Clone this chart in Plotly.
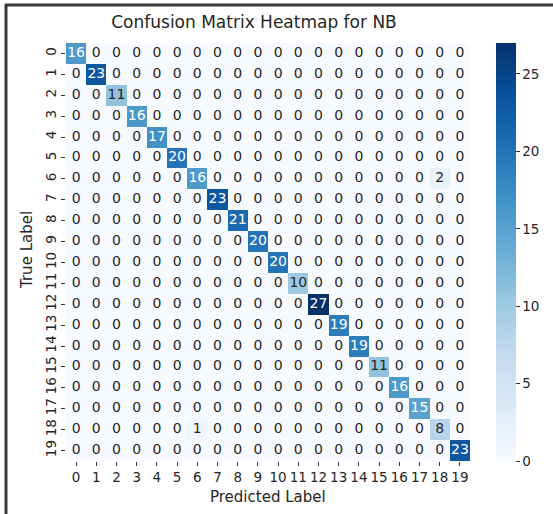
import numpy as np
import plotly.graph_objects as go

# Class labels 0..19
labels = [str(i) for i in range(20)]

# Correct predictions per class (diagonal of the confusion matrix)
diagonal_counts = [16, 23, 11, 16, 17, 20, 16, 23, 21, 20,
                   20, 10, 27, 19, 19, 11, 16, 15, 8, 23]

# Misclassifications: (true label, predicted label, count)
off_diagonal = [(6, 18, 2), (18, 6, 1)]

colorbar_ticks = [0, 5, 10, 15, 20, 25]

n = len(labels)
cm = np.zeros((n, n), dtype=int)
for i, v in enumerate(diagonal_counts):
    cm[i, i] = v
for r, c, v in off_diagonal:
    cm[r, c] = v

# Matplotlib-style "Blues"
blues = ["#f7fbff", "#deebf7", "#c6dbef", "#9ecae1", "#6baed6",
         "#4292c6", "#2171b5", "#08519c", "#08306b"]
colorscale = [[i / (len(blues) - 1), c] for i, c in enumerate(blues)]

vmin, vmax = 0, int(cm.max())


def hex_rgb(h):
    h = h.lstrip("#")
    return [int(h[k:k + 2], 16) / 255 for k in (0, 2, 4)]


def cell_color(v):
    t = (v - vmin) / (vmax - vmin) * (len(blues) - 1)
    k = min(int(np.floor(t)), len(blues) - 2)
    f = t - k
    a, b = hex_rgb(blues[k]), hex_rgb(blues[k + 1])
    return [a[j] + (b[j] - a[j]) * f for j in range(3)]


def luminance(rgb):
    lin = [c / 12.92 if c <= 0.03928 else ((c + 0.055) / 1.055) ** 2.4 for c in rgb]
    return 0.2126 * lin[0] + 0.7152 * lin[1] + 0.0722 * lin[2]


xs, ys, txt, tcol = [], [], [], []
for r in range(n):
    for c in range(n):
        xs.append(c)
        ys.append(r)
        txt.append(str(cm[r, c]))
        tcol.append("#ffffff" if luminance(cell_color(cm[r, c])) < 0.408 else "#262626")

W, H = 553, 514
L, R, T, B = 66, 470, 43, 461  # plot area in pixels
pw, ph = R - L, B - T


def px(x):
    return (x - L) / pw


def py(y):
    return (B - y) / ph


font_family = "DejaVu Sans"
tick_size = 13.5

fig = go.Figure()
fig.add_trace(go.Heatmap(
    z=cm, x=list(range(n)), y=list(range(n)),
    colorscale=colorscale, zmin=vmin, zmax=vmax,
    xgap=0, ygap=0, hoverinfo="skip",
    colorbar=dict(
        x=px(496), xanchor="left", xpad=0,
        y=0.5, yanchor="middle", ypad=0,
        len=1, lenmode="fraction", thickness=20,
        outlinewidth=0,
        tickvals=colorbar_ticks,
        ticks="outside", ticklen=4, tickwidth=1, tickcolor="#333333",
        tickfont=dict(family=font_family, size=tick_size, color="#262626"),
    ),
))
fig.add_trace(go.Scatter(
    x=xs, y=ys, mode="text", text=txt,
    textfont=dict(family=font_family, size=14, color=tcol),
    hoverinfo="skip", showlegend=False,
))

fig.update_xaxes(
    range=[-0.5, n - 0.5], tickvals=list(range(n)), ticktext=labels,
    ticks="outside", ticklen=4, tickwidth=1, tickcolor="#333333",
    showgrid=False, zeroline=False, showline=False, tickangle=0,
    tickfont=dict(family=font_family, size=tick_size, color="#262626"),
)
fig.update_yaxes(
    range=[n - 0.5, -0.5], tickvals=list(range(n)), ticktext=labels,
    ticks="outside", ticklen=4, tickwidth=1, tickcolor="#333333",
    showgrid=False, zeroline=False, showline=False, tickangle=-90,
    tickfont=dict(family=font_family, size=tick_size, color="#262626"),
)

annotations = [
    dict(text="Predicted Label", x=px(268), y=py(497), xref="paper", yref="paper",
         showarrow=False, xanchor="center", yanchor="middle",
         font=dict(family=font_family, size=15, color="#262626")),
    dict(text="True Label", x=px(27), y=py(250), xref="paper", yref="paper",
         showarrow=False, xanchor="center", yanchor="middle", textangle=-90,
         font=dict(family=font_family, size=15, color="#262626")),
]

# Frame lines along the left and top edges of the figure
shapes = [
    dict(type="line", xref="paper", yref="paper",
         x0=px(6), x1=px(6), y0=py(4), y1=py(514),
         line=dict(color="#3a3a3a", width=3)),
    dict(type="line", xref="paper", yref="paper",
         x0=px(5), x1=px(553), y0=py(5), y1=py(5),
         line=dict(color="#3a3a3a", width=3)),
]

fig.update_layout(
    width=W, height=H,
    margin=dict(l=L, r=W - R, t=T, b=H - B),
    paper_bgcolor="white", plot_bgcolor="white",
    title=dict(text="Confusion Matrix Heatmap for NB",
               x=px(254), xref="paper", xanchor="center",
               y=1 - 22 / H, yref="container", yanchor="middle",
               font=dict(family=font_family, size=17, color="#262626")),
    annotations=annotations, shapes=shapes,
    showlegend=False,
)

fig.write_html("out.html")
